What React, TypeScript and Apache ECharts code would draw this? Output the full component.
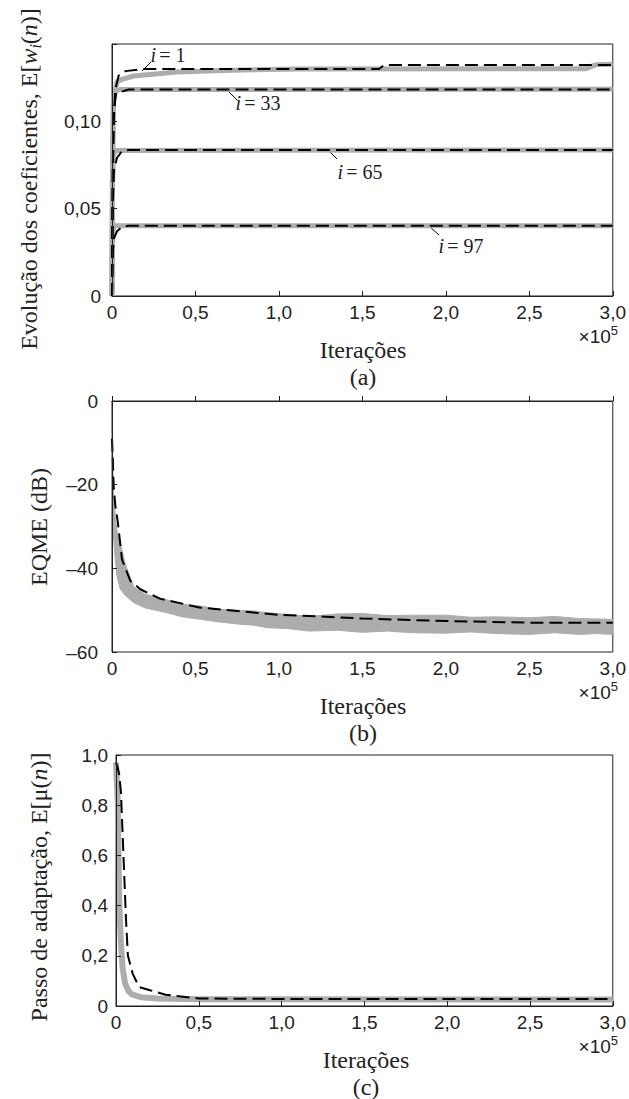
import React, { useEffect, useRef } from "react";
import * as echarts from "echarts";

// ---------- tick labels ----------
const xTickLabels = ["0", "0,5", "1,0", "1,5", "2,0", "2,5", "3,0"];
const yTickLabelsA = ["0", "0,05", "0,10"];
const yTickLabelsB = ["\u201360", "\u201340", "\u201320", "0"];
const yTickLabelsC = ["0", "0,2", "0,4", "0,6", "0,8", "1,0"];

// ---------- panel (a): coefficient evolution (x in units of 1e5) ----------
const i1Gray: [number, number][] = [[0, 0], [0.003, 0.07], [0.01, 0.112], [0.03, 0.1225], [0.06, 0.1238], [0.13, 0.1257], [0.39, 0.128], [0.72, 0.129], [1.12, 0.1297], [2.84, 0.1299], [2.9, 0.1322], [3, 0.1324]];
const i1Dashed: [number, number][] = [[0, 0], [0.004, 0.06], [0.01, 0.1], [0.02, 0.118], [0.04, 0.126], [0.08, 0.1285], [0.2, 0.1297], [1.6, 0.1297], [1.63, 0.132], [3, 0.132]];
const i33Gray: [number, number][] = [[0, 0], [0.003, 0.08], [0.008, 0.112], [0.02, 0.117], [0.05, 0.118], [3, 0.1181]];
const i33Dashed: [number, number][] = [[0, 0], [0.004, 0.07], [0.01, 0.105], [0.025, 0.116], [0.05, 0.1165], [0.1, 0.118], [3, 0.118]];
const i65Gray: [number, number][] = [[0, 0], [0.003, 0.06], [0.008, 0.08], [0.02, 0.0832], [3, 0.0834]];
const i65Dashed: [number, number][] = [[0, 0], [0.004, 0.05], [0.012, 0.072], [0.03, 0.079], [0.06, 0.0828], [0.1, 0.0834], [3, 0.0834]];
const i97Gray: [number, number][] = [[0, 0], [0.003, 0.03], [0.008, 0.039], [0.02, 0.0402], [3, 0.0402]];
const i97Dashed: [number, number][] = [[0, 0], [0.005, 0.025], [0.012, 0.033], [0.03, 0.037], [0.06, 0.0395], [0.1, 0.0402], [3, 0.0402]];

// ---------- panel (b): EQME (dB), gray band lower/upper edges ----------
const bX = [0, 0.003, 0.006, 0.01, 0.02, 0.03, 0.05, 0.08, 0.13, 0.2, 0.33, 0.42, 0.53, 0.64, 0.75, 0.85, 0.93, 1.05, 1.18, 1.35, 1.5, 1.65, 1.8, 2.0, 2.15, 2.3, 2.5, 2.65, 2.8, 2.9, 3.0];
const bUpper = [-7.6, -12, -17, -22, -28, -31, -34, -39, -44.4, -46.2, -47.5, -48.6, -49, -49.8, -50, -50.2, -50.6, -51, -51.5, -50.9, -50.8, -51.3, -51.2, -51.2, -51.7, -51.6, -51.8, -51.5, -52, -52.1, -52.2];
const bLower = [-25, -27, -30, -33, -38, -42, -45, -46.5, -48.2, -49.5, -50.6, -51.6, -52.2, -52.8, -53.3, -53.6, -54.2, -54.4, -55, -54.8, -55.3, -55, -55.4, -55.5, -55.2, -55.6, -55.8, -55.4, -55.8, -55.6, -55.8];
const bDashed: [number, number][] = [[0, -9], [0.005, -14], [0.01, -20.5], [0.02, -25], [0.035, -29], [0.06, -37.9], [0.11, -43], [0.17, -45], [0.29, -47.3], [0.53, -49.4], [1.0, -51.1], [1.24, -51.5], [1.5, -52], [2.0, -52.6], [2.5, -53], [3.0, -53]];

// ---------- panel (c): step size ----------
const cGray: [number, number][] = [[0, 0.97], [0.005, 0.9], [0.01, 0.82], [0.015, 0.6], [0.02, 0.4], [0.03, 0.25], [0.04, 0.15], [0.055, 0.09], [0.075, 0.06], [0.1, 0.045], [0.15, 0.035], [0.25, 0.03], [0.5, 0.027], [1.0, 0.027], [3.0, 0.026]];
const cDashed: [number, number][] = [[0, 0.97], [0.01, 0.95], [0.02, 0.92], [0.03, 0.85], [0.045, 0.6], [0.06, 0.35], [0.072, 0.2], [0.1, 0.13], [0.14, 0.075], [0.2, 0.064], [0.3, 0.045], [0.5, 0.03], [1.0, 0.028], [3.0, 0.028]];

const SANS = "'Liberation Sans', Arial, sans-serif";
const SERIF = "'Liberation Serif', 'Times New Roman', serif";
const INK = "#222";
const GRAY = "#adadad";
const DASH = [13, 6];

function labelAt(labels: string[], v: number, min: number, step: number) {
  const k = (v - min) / step;
  const r = Math.round(k);
  if (Math.abs(k - r) > 1e-6) return "";
  return labels[r] ?? "";
}

export default function App() {
  const ref = useRef<HTMLDivElement>(null);
  useEffect(() => {
    if (!ref.current) return;
    const chart = echarts.init(ref.current, null, { renderer: "svg" });

    const grids = [
      { left: 112, top: 44, width: 502, height: 252 },
      { left: 112, top: 401, width: 502, height: 251 },
      { left: 116, top: 755, width: 500, height: 251 },
    ];
    const bottoms = grids.map((g) => g.top + g.height);
    const centers = grids.map((g) => g.left + g.width / 2);

    const xAxis = grids.map((_, i) => ({
      type: "value",
      gridIndex: i,
      min: 0,
      max: 3,
      interval: 0.5,
      z: 10,
      axisLine: { show: true, lineStyle: { color: INK, width: 1 } },
      axisTick: { show: true, inside: true, length: 5, lineStyle: { color: INK } },
      splitLine: { show: false },
      axisLabel: {
        margin: 7,
        fontSize: 19,
        fontFamily: SANS,
        color: INK,
        formatter: (v: number) => labelAt(xTickLabels, v, 0, 0.5),
      },
    }));

    const yCommon = {
      type: "value",
      z: 10,
      axisLine: { show: true, lineStyle: { color: INK, width: 1 } },
      axisTick: { show: true, inside: true, length: 5, lineStyle: { color: INK } },
      splitLine: { show: false },
    };
    const yAxis = [
      {
        ...yCommon, gridIndex: 0, min: 0, max: 0.144, interval: 0.05,
        axisLabel: { margin: 11, fontSize: 19, fontFamily: SANS, color: INK, formatter: (v: number) => labelAt(yTickLabelsA, v, 0, 0.05) },
      },
      {
        ...yCommon, gridIndex: 1, min: -60, max: 0, interval: 20,
        axisLabel: { margin: 14, fontSize: 19, fontFamily: SANS, color: INK, formatter: (v: number) => labelAt(yTickLabelsB, v, -60, 20) },
      },
      {
        ...yCommon, gridIndex: 2, min: 0, max: 1, interval: 0.2,
        axisLabel: { margin: 8, fontSize: 19, fontFamily: SANS, color: INK, formatter: (v: number) => labelAt(yTickLabelsC, v, 0, 0.2) },
      },
    ];

    const grayLine = (data: [number, number][], idx: number, width = 5) => ({
      type: "line", xAxisIndex: idx, yAxisIndex: idx, data, symbol: "none", showSymbol: false,
      lineStyle: { color: GRAY, width }, z: 2, silent: true,
    });
    const dashLine = (data: [number, number][], idx: number) => ({
      type: "line", xAxisIndex: idx, yAxisIndex: idx, data, symbol: "none", showSymbol: false,
      lineStyle: { color: "#000", width: 2, type: DASH }, z: 3, silent: true,
    });

    const bandSeries = {
      type: "custom", xAxisIndex: 1, yAxisIndex: 1, z: 2, silent: true,
      data: bX.map((x, k) => [x, bLower[k], bUpper[k]]),
      encode: { x: 0, y: [1, 2] },
      renderItem: (params: any, api: any) => {
        if (params.dataIndex !== 0) return null;
        const top = bX.map((x, k) => api.coord([x, bUpper[k]]));
        const bot = bX.map((x, k) => api.coord([x, bLower[k]])).reverse();
        return {
          type: "polygon",
          shape: { points: top.concat(bot) },
          style: { fill: GRAY, stroke: GRAY, lineWidth: 1 },
        };
      },
    };

    const series: any[] = [
      grayLine(i1Gray, 0), grayLine(i33Gray, 0), grayLine(i65Gray, 0), grayLine(i97Gray, 0),
      dashLine(i1Dashed, 0), dashLine(i33Dashed, 0), dashLine(i65Dashed, 0), dashLine(i97Dashed, 0),
      bandSeries,
      dashLine(bDashed, 1),
      grayLine(cGray, 2, 6),
      dashLine(cDashed, 2),
    ];

    const tickText = (x: number, y: number, txt: string) => ({
      type: "text", x, y, silent: true,
      style: { text: txt, fontSize: 24, fontFamily: SERIF, fill: INK, align: "center", verticalAlign: "middle" },
    });
    const tenPow = (y: number) => ({
      type: "text", x: 618, y, silent: true,
      style: {
        text: "{b|\u00d710}{s|5}", align: "right", verticalAlign: "middle",
        rich: {
          b: { fontSize: 19, fontFamily: SANS, fill: INK, lineHeight: 22, verticalAlign: "bottom" },
          s: { fontSize: 13, fontFamily: SANS, fill: INK, lineHeight: 22, verticalAlign: "top" },
        },
      },
    });
    const annot = (x: number, y: number, num: string) => ({
      type: "text", x, y, silent: true,
      style: {
        text: "{i|i} {n|= " + num + "}", align: "center", verticalAlign: "middle",
        rich: {
          i: { fontSize: 20, fontFamily: SERIF, fontStyle: "italic", fill: INK },
          n: { fontSize: 20, fontFamily: SERIF, fill: INK },
        },
      },
    });
    const leader = (x1: number, y1: number, x2: number, y2: number) => ({
      type: "line", silent: true, shape: { x1, y1, x2, y2 }, style: { stroke: "#000", lineWidth: 1 },
    });
    const yTitle = (x: number, y: number, text: string, rich: any) => ({
      type: "text", x, y, rotation: Math.PI / 2, silent: true,
      style: { text, align: "center", verticalAlign: "middle", rich },
    });
    const serifTok = (extra: any = {}) => ({ fontSize: 24, fontFamily: SERIF, fill: INK, lineHeight: 28, verticalAlign: "middle", ...extra });

    const graphic: any[] = [
      yTitle(29, 179, "{n|Evolução dos coeficientes, E[}{it|w}{sub|i}{n|(}{it|n}{n|)]}", {
        n: serifTok(), it: serifTok({ fontStyle: "italic" }),
        sub: { fontSize: 16, fontFamily: SERIF, fontStyle: "italic", fill: INK, lineHeight: 16, verticalAlign: "bottom" },
      }),
      yTitle(39, 527, "{n|EQME (dB)}", { n: serifTok() }),
      yTitle(39, 887, "{n|Passo de adaptação, E[μ(}{it|n}{n|)]}", { n: serifTok(), it: serifTok({ fontStyle: "italic" }) }),
      ...bottoms.flatMap((b, i) => [
        tickText(centers[i], b + 54, "Iterações"),
        tickText(centers[i], b + 81, ["(a)", "(b)", "(c)"][i]),
        tenPow(b + 39),
      ]),
      annot(168, 55, "1"), leader(142, 71, 151, 62),
      annot(258, 103, "33"), leader(228, 91, 237, 100),
      annot(360, 172, "65"), leader(328, 150, 337, 159),
      annot(461, 246, "97"), leader(430, 227, 439, 235),
    ];

    chart.setOption({
      animation: false,
      backgroundColor: "#fff",
      grid: grids.map((g) => ({ ...g, show: true, borderColor: INK, borderWidth: 1, backgroundColor: "transparent", containLabel: false })),
      xAxis,
      yAxis,
      series,
      graphic,
    } as any);

    return () => chart.dispose();
  }, []);

  return <div ref={ref} style={{ position: "absolute", left: 0, top: 0, width: 629, height: 1099, background: "#fff" }} />;
}
